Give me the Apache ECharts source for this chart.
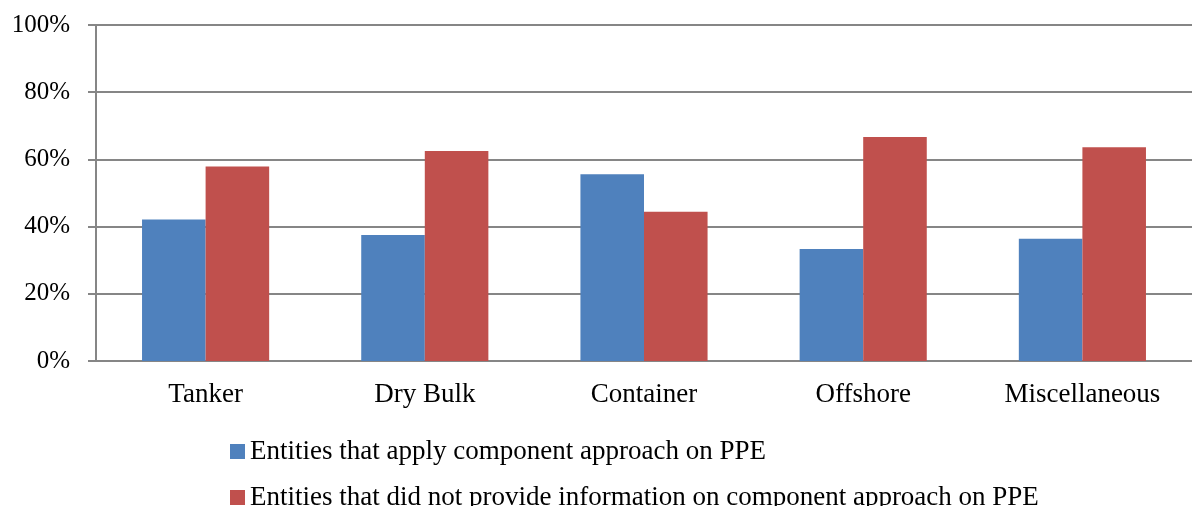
<!DOCTYPE html>
<html>
<head>
<meta charset="utf-8">
<script src="https://cdn.jsdelivr.net/npm/echarts@6/dist/echarts.min.js"></script>
<style>
    html, body { margin: 0; padding: 0; background: #fff; }
    #chart { width: 1192px; height: 506px; }
</style>
</head>
<body>
<div id="chart"></div>
<script>
// categories and values (percent)
var categories = ['Tanker', 'Dry Bulk', 'Container', 'Offshore', 'Miscellaneous'];
var applyValues = [42.1, 37.5, 55.6, 33.3, 36.4];
var noInfoValues = [57.9, 62.5, 44.4, 66.7, 63.6];
var seriesNames = [
    'Entities that apply component approach on PPE',
    'Entities that did not provide information on component approach on PPE'
];

var myChart = echarts.init(document.getElementById('chart'), null, { renderer: 'canvas' });
var font = 'Liberation Serif';
var axisGray = '#868686';

// one legend per row, stacked like the original
function legendRow(name, top) {
    return {
        left: 225,
        top: top,
        itemWidth: 15,
        itemHeight: 15,
        itemGap: 0,
        icon: 'rect',
        itemStyle: { borderWidth: 0 },
        textStyle: { fontFamily: font, fontSize: 27, color: '#000', padding: [0, 0, 0, 0] },
        data: [name]
    };
}

var option = {
    animation: false,
    color: ['#4F81BD', '#C0504D'],
    textStyle: { fontFamily: font },
    grid: {
        left: 96,
        right: 0,
        top: 25,
        bottom: 145
    },
    legend: [
        legendRow(seriesNames[0], 433),
        legendRow(seriesNames[1], 479)
    ],
    xAxis: {
        type: 'category',
        data: categories,
        axisLine: { lineStyle: { color: axisGray, width: 2 } },
        axisTick: { length: 8, lineStyle: { color: axisGray, width: 2 } },
        axisLabel: { fontFamily: font, fontSize: 27, color: '#000', margin: 20 }
    },
    yAxis: {
        type: 'value',
        min: 0,
        max: 100,
        interval: 20,
        axisLine: { show: true, lineStyle: { color: axisGray, width: 2 } },
        axisTick: { show: true, length: 8, lineStyle: { color: axisGray, width: 2 } },
        splitLine: { lineStyle: { color: axisGray, width: 2 } },
        axisLabel: {
            fontFamily: font, fontSize: 25, color: '#000', margin: 26,
            formatter: function (v) { return v + '%'; }
        }
    },
    series: [
        {
            name: seriesNames[0],
            type: 'bar',
            data: applyValues,
            barWidth: '29%',
            barGap: '0%'
        },
        {
            name: seriesNames[1],
            type: 'bar',
            data: noInfoValues,
            barWidth: '29%',
            barGap: '0%'
        }
    ]
};
myChart.setOption(option);
</script>
</body>
</html>
